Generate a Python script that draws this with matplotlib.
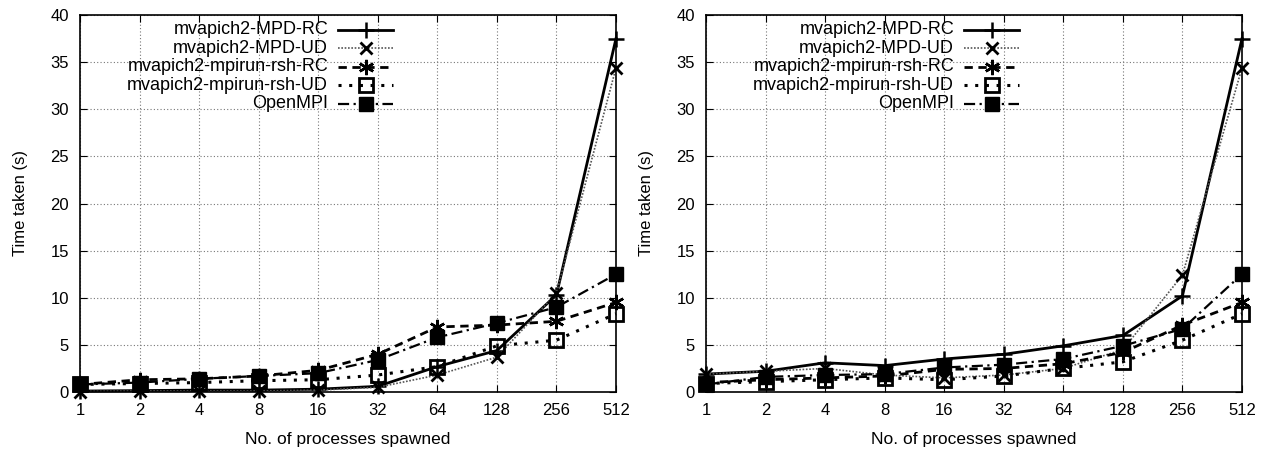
import numpy as np
import matplotlib.pyplot as plt

plt.rcParams['font.family'] = ['Liberation Sans', 'DejaVu Sans']

procs = ["1", "2", "4", "8", "16", "32", "64", "128", "256", "512"]
labels = ["mvapich2-MPD-RC", "mvapich2-MPD-UD", "mvapich2-mpirun-rsh-RC",
          "mvapich2-mpirun-rsh-UD", "OpenMPI"]

# left panel
l_mpd_rc = [0.1, 0.15, 0.2, 0.2, 0.3, 0.6, 2.7, 4.4, 10.3, 37.5]
l_mpd_ud = [0.05, 0.1, 0.1, 0.1, 0.2, 0.5, 1.8, 3.7, 10.5, 34.4]
l_rsh_rc = [0.8, 1.3, 1.4, 1.7, 2.3, 4.0, 6.9, 7.1, 7.5, 9.5]
l_rsh_ud = [0.8, 0.9, 1.0, 1.2, 1.3, 1.8, 2.7, 4.9, 5.5, 8.3]
l_ompi = [0.8, 1.0, 1.4, 1.7, 2.0, 3.4, 5.8, 7.3, 9.0, 12.5]

# right panel
r_mpd_rc = [1.9, 2.2, 3.1, 2.8, 3.5, 4.0, 4.9, 6.0, 10.2, 37.5]
r_mpd_ud = [1.9, 2.2, 2.5, 1.8, 1.5, 1.8, 2.5, 4.5, 12.4, 34.4]
r_rsh_rc = [1.0, 1.3, 1.5, 1.7, 2.4, 2.5, 3.0, 4.2, 7.1, 9.5]
r_rsh_ud = [0.9, 1.1, 1.3, 1.5, 1.3, 1.7, 2.5, 3.2, 5.5, 8.3]
r_ompi = [0.8, 1.6, 1.8, 1.9, 2.6, 2.9, 3.5, 4.9, 6.7, 12.5]

styles = [
    dict(ls="-", lw=2.0, marker="+", ms=12, mew=1.8, color="black"),
    dict(ls=(0, (1, 1)), lw=1.2, marker="x", ms=9, mew=2.0, color="#555555", mec="black"),
    dict(ls=(0, (3, 2)), lw=2.0, marker=(6, 2, 0), ms=11, mew=1.8, color="black"),
    dict(ls=(0, (1, 2.5)), lw=2.2, marker="s", ms=10, mew=2.0, color="black", mfc="none"),
    dict(ls=(0, (5, 2, 1, 2)), lw=1.6, marker="s", ms=10, mew=1.0, color="black"),
]

fig = plt.figure(figsize=(12.64, 4.49), dpi=100)
ax1 = fig.add_axes([80 / 1264, 57 / 449, 536 / 1264, 377 / 449])
ax2 = fig.add_axes([706 / 1264, 57 / 449, 536 / 1264, 377 / 449])

x = np.arange(len(procs))
for ax, series in [(ax1, [l_mpd_rc, l_mpd_ud, l_rsh_rc, l_rsh_ud, l_ompi]),
                   (ax2, [r_mpd_rc, r_mpd_ud, r_rsh_rc, r_rsh_ud, r_ompi])]:
    for vals, lab, st in zip(series, labels, styles):
        ax.plot(x, vals, label=lab, clip_on=False, **st)
    ax.set_xlim(0, len(procs) - 1)
    ax.set_ylim(0, 40)
    ax.set_xticks(x)
    ax.set_xticklabels(procs)
    ax.set_yticks(range(0, 41, 5))
    ax.tick_params(direction="in", top=True, right=True, labelsize=12, length=5, pad=8)
    ax.grid(True, color="#777777", ls=(0, (1, 2)), lw=0.8)
    for s in ax.spines.values():
        s.set_linewidth(1.2)
    ax.set_xlabel("No. of processes spawned", fontsize=12.5, labelpad=10)
    ax.set_ylabel("Time taken (s)", fontsize=12, labelpad=16)

    # gnuplot-style key: right-aligned text, sample line to its right
    for i, (lab, st) in enumerate(zip(labels, styles)):
        yk = 0.961 - i * 0.049
        ax.text(0.463, yk, lab, transform=ax.transAxes, ha="right", va="center",
                fontsize=13)
        ax.plot([0.482, 0.584], [yk, yk], transform=ax.transAxes, clip_on=False,
                ls=st["ls"], lw=st["lw"], color=st["color"])
        mst = {k: v for k, v in st.items() if k not in ("ls", "lw")}
        ax.plot([0.533], [yk], transform=ax.transAxes, clip_on=False, ls="none", **mst)

fig.savefig("out.png", dpi=100)
